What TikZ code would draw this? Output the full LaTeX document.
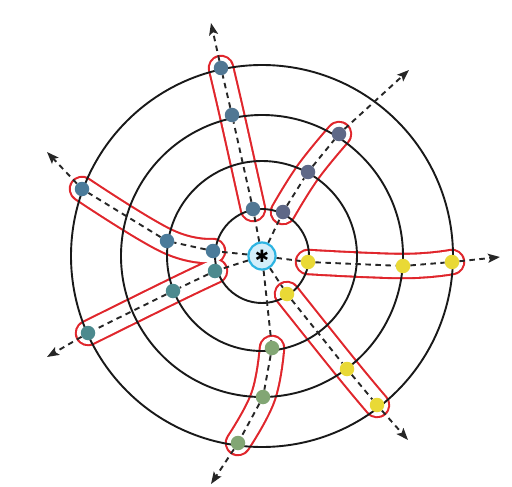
\documentclass[tikz,border=0pt]{standalone}
\usepackage{fontspec}
\newfontfamily\symfont{DejaVu Sans}
\usetikzlibrary{arrows.meta}
\pgfdeclarelayer{capred}
\pgfdeclarelayer{capwhite}
\pgfdeclarelayer{rings}
\pgfdeclarelayer{lines}
\pgfsetlayers{capred,capwhite,rings,lines,main}
\definecolor{cA}{HTML}{517793}
\definecolor{cB}{HTML}{5E6887}
\definecolor{cY}{HTML}{E9D936}
\definecolor{cG}{HTML}{82A674}
\definecolor{cT}{HTML}{4C8A8E}
\definecolor{cL}{HTML}{4B7B9A}
\definecolor{capred}{HTML}{E0262C}
\definecolor{hubfill}{HTML}{D3EEFA}
\definecolor{hubline}{HTML}{2DB4E2}
\begin{document}
\begin{tikzpicture}[x=1pt,y=-1pt,
  dot/.style={circle,inner sep=0pt,minimum size=14.5pt,draw=none},
  hub/.style={circle,inner sep=0pt,minimum size=27pt,fill=hubfill,draw=hubline,line width=2.2pt},
  ring/.style={line width=1.9pt,black!90},
  spoke/.style={line width=1.9pt,black!85,dash pattern=on 5.5pt off 4.5pt,-{Stealth[length=12pt,width=9pt,inset=2.5pt]}},
  capR/.style={line width=26.5pt,capred,line cap=round,line join=round},
  capW/.style={line width=22.3pt,white,line cap=round,line join=round}]
\useasboundingbox (0,0) rectangle (512,487);
\node[hub,font=\symfont\fontsize{17}{17}\selectfont] (c) at (262,256) {✱};
% spoke 1
\node[dot,fill=cA] (a1) at (253,209) {};
\node[dot,fill=cA] (a2) at (232,115) {};
\node[dot,fill=cA] (a3) at (221,68) {};
\coordinate (ta) at (211,23);
% spoke 2
\node[dot,fill=cB] (b1) at (283,212) {};
\node[dot,fill=cB] (b2) at (308,172) {};
\node[dot,fill=cB] (b3) at (339,134) {};
\coordinate (tb) at (409,70);
% spoke 3
\node[dot,fill=cY] (d1) at (308,262) {};
\node[dot,fill=cY] (d2) at (403,266) {};
\node[dot,fill=cY] (d3) at (452,262) {};
\coordinate (td) at (500,257);
% spoke 4
\node[dot,fill=cY] (e1) at (287,294) {};
\node[dot,fill=cY] (e2) at (347,369) {};
\node[dot,fill=cY] (e3) at (377,405) {};
\coordinate (te) at (408,440);
% spoke 5
\node[dot,fill=cG] (f1) at (272,348) {};
\node[dot,fill=cG] (f2) at (263,397) {};
\node[dot,fill=cG] (f3) at (238,443) {};
\coordinate (tf) at (211,484);
% spoke 6
\node[dot,fill=cT] (g1) at (215,271) {};
\node[dot,fill=cT] (g2) at (173,291) {};
\node[dot,fill=cT] (g3) at (88,333) {};
\coordinate (tg) at (47,357);
% spoke 7
\node[dot,fill=cL] (h1) at (213,251) {};
\node[dot,fill=cL] (h2) at (167,241) {};
\node[dot,fill=cL] (h3) at (82,189) {};
\coordinate (th) at (47,152);
\begin{pgfonlayer}{capred}
  \fill[white] (0,0) rectangle (512,487);
  \foreach \p in {a,b,d,e,f,g,h}
    \draw[capR] plot[smooth,tension=0.7] coordinates {(\p1.center) (\p2.center) (\p3.center)};
\end{pgfonlayer}
\begin{pgfonlayer}{capwhite}
  \foreach \p in {a,b,d,e,f,g,h}
    \draw[capW] plot[smooth,tension=0.7] coordinates {(\p1.center) (\p2.center) (\p3.center)};
\end{pgfonlayer}
\begin{pgfonlayer}{rings}
  \foreach \r in {47,95,141,191}
    \draw[ring] (c.center) circle[radius=\r];
\end{pgfonlayer}
\begin{pgfonlayer}{lines}
  \foreach \p in {a,b,d,e,f,g,h}
    \draw[spoke] (c) -- (\p1) -- (\p2) -- (\p3) -- (t\p);
\end{pgfonlayer}
\end{tikzpicture}
\end{document}
